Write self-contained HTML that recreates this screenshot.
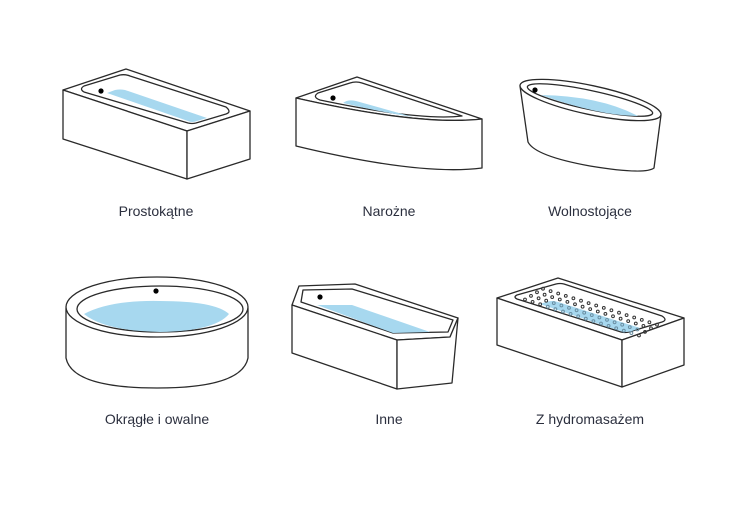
<!DOCTYPE html>
<html><head><meta charset="utf-8"><style>
html,body{margin:0;padding:0;background:#fff;}
svg{display:block}
text{font-family:"Liberation Sans",sans-serif;font-size:14px;fill:#2b2f3e;text-anchor:middle}
</style></head><body>
<svg width="750" height="506" viewBox="0 0 750 506" xmlns="http://www.w3.org/2000/svg">
<g fill="#fff" stroke="#2a2a2a" stroke-width="1.3" stroke-linejoin="round">
<!-- Tub 1 -->
<path d="M63,90 L126,69 L250,111 L187,131 Z"/>
<path d="M63,90 L187,131 L187,179 L63,139 Z"/>
<path d="M187,131 L250,111 L250,159 L187,179 Z"/>
<path d="M84,86 L120,75 Q125,74 130,76 L226,107 Q232,112 226,114 L196,123 Q192,124 188,123 L84,92 Q79,89 84,86 Z"/>
<path d="M107,93 L115,90 Q120,89 125,90 L207,118 L197,121 Q192,123 188,121 Z" fill="#a7d8ef" stroke="none"/>
<circle cx="101" cy="91" r="2.6" fill="#000" stroke="none"/>
<!-- Tub 2 -->
<path d="M296,98 L357,77 L482,119 Q420,126 296,98 Z"/>
<path d="M296,98 Q420,126 482,119 L482,168 Q420,176 296,146 Z"/>
<path d="M318,93 L350,83 Q356,81 362,83 L462,116 Q420,121 320,100 Q312,97 318,93 Z"/>
<path d="M343,103 Q348,99 356,101 L413,117 Q380,112 343,103 Z" fill="#a7d8ef" stroke="none"/>
<circle cx="333" cy="98" r="2.6" fill="#000" stroke="none"/>
<!-- Tub 3 -->
<path d="M520,86 L528,142 Q535,156 590,166 Q645,175 654,168 L661,115 Z"/>
<ellipse cx="590.5" cy="100" rx="72" ry="14.5" transform="rotate(12 590.5 100)"/>
<ellipse cx="590" cy="100" rx="64" ry="9.5" transform="rotate(12 590 100)"/>
<path d="M541,95 Q600,96 638,116 Q600,116 541,95 Z" fill="#a7d8ef" stroke="none"/>
<circle cx="535" cy="90" r="2.6" fill="#000" stroke="none"/>
<!-- Tub 4 -->
<path d="M66,308 L66,358 Q72,388 157,388 Q242,388 248,358 L248,308 Z"/>
<ellipse cx="157" cy="307" rx="91" ry="30"/>
<ellipse cx="160" cy="309" rx="83" ry="23"/>
<path d="M84,314 Q110,300 160,301 Q215,301 229,314 Q215,331 160,332 Q105,331 84,314 Z" fill="#a7d8ef" stroke="none"/>
<circle cx="156" cy="291" r="2.6" fill="#000" stroke="none"/>
<!-- Tub 5 -->
<path d="M299,286 L355,284 L458,318 L450,337 L397,340 L292,305 Z"/>
<path d="M292,305 L397,340 L397,389 L292,353 Z"/>
<path d="M397,340 L450,337 L458,318 L452,383 L397,389 Z"/>
<path d="M303,290 L352,289 L453,320 L448,332 L393,333 L301,302 Z"/>
<path d="M317,305 L352,305 L430,332 L393,333 Z" fill="#a7d8ef" stroke="none"/>
<circle cx="320" cy="297" r="2.6" fill="#000" stroke="none"/>
<!-- Tub 6 -->
<path d="M497,298 L558,278 L684,318 L622,340 Z"/>
<path d="M497,298 L622,340 L622,387 L497,345 Z"/>
<path d="M622,340 L684,318 L684,365 L622,387 Z"/>
<path d="M517,295 L556,284 Q560,283 564,284 L662,316 Q668,320 662,322 L629,332 Q625,333 621,332 L517,299 Q513,297 517,295 Z"/>
<path d="M540,304 L546,302 Q552,300 558,302 L640,328 L632,331 Q626,333 620,331 Z" fill="#a7d8ef" stroke="none"/>
<g id="dots" fill="none" stroke="#333" stroke-width="1"></g>
</g>
<text x="156" y="216">Prostokątne</text>
<text x="389" y="216">Narożne</text>
<text x="590" y="216">Wolnostojące</text>
<text x="157" y="424">Okrągłe i owalne</text>
<text x="389" y="424">Inne</text>
<text x="590" y="424">Z hydromasażem</text>
</svg>
<script>
var g=document.getElementById('dots'),s='';
for(var j=0;j<4;j++)for(var i=0;i<16;i++){
var x=525+i*7.6+j*6, y=299.5+i*2.4-j*3.6;
s+='<circle cx="'+x.toFixed(1)+'" cy="'+y.toFixed(1)+'" r="1.4"'+(j<2&&i>2&&i<15?' stroke="#6a8fa3"':'')+'/>';}
g.innerHTML=s;
</script>
</body></html>
